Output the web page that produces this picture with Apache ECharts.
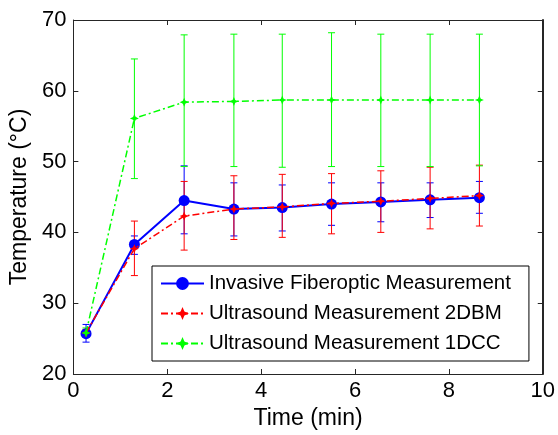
<!DOCTYPE html>
<html>
<head>
<meta charset="utf-8">
<script src="https://cdn.jsdelivr.net/npm/echarts@6/dist/echarts.min.js"></script>
<style>
html,body{margin:0;padding:0;background:#fff;}
#chart{width:558px;height:435px;}
</style>
</head>
<body>
<div id="chart"></div>
<script>
const timeMin = [0.27, 1.3, 2.36, 3.42, 4.45, 5.5, 6.55, 7.6, 8.65];

const fiberMean = [25.7, 38.3, 44.5, 43.3, 43.5, 44.0, 44.3, 44.6, 44.9];
const fiberHigh = [27.0, 39.5, 49.4, 47.0, 46.7, 47.0, 47.0, 47.0, 47.2];
const fiberLow  = [24.5, 36.9, 39.8, 39.5, 40.2, 41.0, 41.5, 42.1, 42.7];

const bmMean = [25.8, 37.7, 42.3, 43.3, 43.6, 44.1, 44.4, 44.8, 45.2];
const bmHigh = [26.3, 41.6, 47.2, 48.0, 48.2, 48.3, 48.7, 49.2, 49.5];
const bmLow  = [25.3, 33.9, 37.5, 39.0, 39.3, 39.8, 40.0, 40.5, 40.9];

const ccMean = [25.8, 56.1, 58.4, 58.5, 58.7, 58.7, 58.7, 58.7, 58.7];
const ccHigh = [26.5, 64.5, 67.9, 68.0, 68.0, 68.2, 68.0, 68.0, 68.0];
const ccLow  = [25.2, 47.6, 49.3, 49.3, 49.2, 49.3, 49.3, 49.3, 49.4];

const seriesNames = ['Invasive Fiberoptic Measurement', 'Ultrasound Measurement 2DBM', 'Ultrasound Measurement 1DCC'];
const xTitle = 'Time (min)';
const yTitle = 'Temperature (\u00B0C)';

const FONT = '"Liberation Sans", Arial, Helvetica, sans-serif';
const star = 'path://M0,-10 L3,-3 L10,0 L3,3 L0,10 L-3,3 L-10,0 L-3,-3 Z';

function pairs(xs, ys) { return xs.map((x, i) => [x, ys[i]]); }
function errData(xs, lo, hi) { return xs.map((x, i) => [x, lo[i], hi[i]]); }

function errSeries(data, color) {
  return {
    type: 'custom',
    xAxisIndex: 0, yAxisIndex: 0,
    data: data,
    encode: { x: 0, y: [1, 2] },
    silent: true,
    z: 2,
    renderItem: function (params, api) {
      const x = api.value(0);
      const top = api.coord([x, api.value(2)]);
      const bot = api.coord([x, api.value(1)]);
      const w = 3.5;
      const st = { stroke: color, lineWidth: 1, fill: null };
      return {
        type: 'group',
        children: [
          { type: 'line', shape: { x1: top[0], y1: top[1], x2: bot[0], y2: bot[1] }, style: st },
          { type: 'line', shape: { x1: top[0] - w, y1: top[1], x2: top[0] + w, y2: top[1] }, style: st },
          { type: 'line', shape: { x1: bot[0] - w, y1: bot[1], x2: bot[0] + w, y2: bot[1] }, style: st }
        ]
      };
    }
  };
}

const axisLineStyle = { color: '#262626', width: 1 };
const chart = echarts.init(document.getElementById('chart'), null, { renderer: 'canvas' });
chart.setOption({
  animation: false,
  backgroundColor: '#fff',
  textStyle: { fontFamily: FONT },
  grid: { left: 73, right: 14, top: 20, bottom: 61 },
  legend: {
    data: seriesNames,
    orient: 'vertical',
    left: 152, top: 266,
    backgroundColor: '#fff',
    borderColor: '#000', borderWidth: 1,
    padding: [7, 18, 7, 8],
    itemWidth: 43, itemHeight: 16, itemGap: 9,
    textStyle: { fontFamily: FONT, fontSize: 20.5, color: '#000' }
  },
  xAxis: [{
    type: 'value', min: 0, max: 10, interval: 2,
    name: xTitle, nameLocation: 'middle', nameGap: 24,
    nameTextStyle: { fontFamily: FONT, fontSize: 23, color: '#000' },
    axisLine: { show: true, onZero: false, lineStyle: axisLineStyle },
    axisTick: { inside: true, length: 5, lineStyle: axisLineStyle },
    axisLabel: { fontFamily: FONT, fontSize: 22, color: '#000', margin: 6 },
    splitLine: { show: false }
  }, {
    type: 'value', min: 0, max: 10, interval: 2, position: 'top',
    axisLine: { show: true, onZero: false, lineStyle: axisLineStyle },
    axisTick: { inside: true, length: 5, lineStyle: axisLineStyle },
    axisLabel: { show: false }, splitLine: { show: false }
  }],
  yAxis: [{
    type: 'value', min: 20, max: 70, interval: 10,
    name: yTitle, nameLocation: 'middle', nameGap: 36, nameRotate: 90,
    nameTextStyle: { fontFamily: FONT, fontSize: 23, color: '#000' },
    axisLine: { show: true, onZero: false, lineStyle: axisLineStyle },
    axisTick: { inside: true, length: 5, lineStyle: axisLineStyle },
    axisLabel: { fontFamily: FONT, fontSize: 22, color: '#000', margin: 7 },
    splitLine: { show: false }
  }, {
    type: 'value', min: 20, max: 70, interval: 10, position: 'right',
    axisLine: { show: true, onZero: false, lineStyle: { color: '#262626', width: 2 } },
    axisTick: { inside: true, length: 5, lineStyle: axisLineStyle },
    axisLabel: { show: false }, splitLine: { show: false }
  }],
  series: [
    errSeries(errData(timeMin, fiberLow, fiberHigh), '#0000ff'),
    {
      name: seriesNames[0], type: 'line', xAxisIndex: 0, yAxisIndex: 0,
      data: pairs(timeMin, fiberMean), z: 3,
      lineStyle: { color: '#0000ff', width: 2 },
      itemStyle: { color: '#0000ff' },
      symbol: 'circle', symbolSize: 11, showAllSymbol: true
    },
    errSeries(errData(timeMin, bmLow, bmHigh), '#ff0000'),
    {
      name: seriesNames[1], type: 'line', xAxisIndex: 0, yAxisIndex: 0,
      data: pairs(timeMin, bmMean), z: 4,
      lineStyle: { color: '#ff0000', width: 1.5, type: [7, 3, 2, 3] },
      itemStyle: { color: '#ff0000' },
      symbol: star, symbolSize: 9, showAllSymbol: true
    },
    errSeries(errData(timeMin, ccLow, ccHigh), '#00ff00'),
    {
      name: seriesNames[2], type: 'line', xAxisIndex: 0, yAxisIndex: 0,
      data: pairs(timeMin, ccMean), z: 5,
      lineStyle: { color: '#00ff00', width: 1.5, type: [7, 3, 2, 3] },
      itemStyle: { color: '#00ff00' },
      symbol: star, symbolSize: 9, showAllSymbol: true
    }
  ]
});
</script>
</body>
</html>
